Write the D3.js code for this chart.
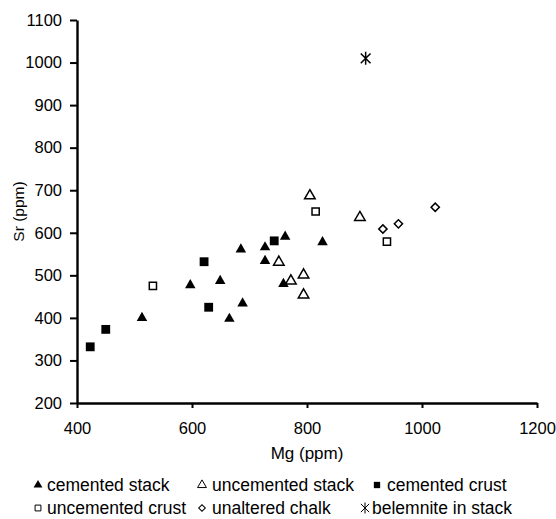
<!DOCTYPE html>
<html>
<head>
<meta charset="utf-8">
<script src="https://cdn.jsdelivr.net/npm/d3@7"></script>
<style>
  body { margin: 0; background: #fff; }
  text { font-family: "Liberation Sans", Arial, sans-serif; fill: #000; }
</style>
</head>
<body>
<svg id="chart"></svg>
<script>
// Mg (ppm) / Sr (ppm)
const cementedStackMg = [513, 597, 649, 665, 685, 688, 727, 727, 759, 762, 827];
const cementedStackSr = [400, 477, 487, 398, 561, 434, 566, 534, 480, 591, 578];

const uncementedStackMg = [751, 772, 794, 794, 805, 892];
const uncementedStackSr = [531, 487, 501, 454, 687, 636];

const cementedCrustMg = [423, 450, 621, 629, 743];
const cementedCrustSr = [332, 373, 532, 425, 581];

const uncementedCrustMg = [532, 815, 939];
const uncementedCrustSr = [475, 650, 579];

const chalkMg = [932, 959, 1023];
const chalkSr = [609, 621, 660];

const belemniteMg = [902];
const belemniteSr = [1010];

const xTicks = [400, 600, 800, 1000, 1200];
const yTicks = [200, 300, 400, 500, 600, 700, 800, 900, 1000, 1100];

const width = 556;
const height = 519;
const margin = { left: 77, right: 19, top: 20, bottom: 116 };

const svg = d3.select('#chart')
    .attr('width', width)
    .attr('height', height);

const x = d3.scaleLinear()
    .domain([400, 1200])
    .range([margin.left, width - margin.right]);

const y = d3.scaleLinear()
    .domain([200, 1100])
    .range([height - margin.bottom, margin.top]);

// Axes
const xAxis = svg.append('g')
    .attr('transform', `translate(0, ${y(200)})`)
    .call(d3.axisBottom(x).tickValues(xTicks).tickFormat(d3.format('d'))
        .tickSize(5).tickSizeOuter(0).tickPadding(14));

const yAxis = svg.append('g')
    .attr('transform', `translate(${x(400)}, 0)`)
    .call(d3.axisLeft(y).tickValues(yTicks).tickFormat(d3.format('d'))
        .tickSize(7).tickSizeOuter(0).tickPadding(8));

[xAxis, yAxis].forEach(ax => {
    ax.select('.domain').attr('stroke', '#000').attr('stroke-width', 2.4);
    ax.selectAll('.tick line').attr('stroke', '#000').attr('stroke-width', 2);
    ax.selectAll('.tick text')
        .attr('font-family', '"Liberation Sans", Arial, sans-serif')
        .attr('font-size', 16.5)
        .attr('fill', '#000');
});

// Axis titles
svg.append('text')
    .attr('x', (x(400) + x(1200)) / 2)
    .attr('y', 459)
    .attr('text-anchor', 'middle')
    .attr('font-size', 17)
    .text('Mg (ppm)');

svg.append('text')
    .attr('transform', `translate(24, ${(y(200) + y(1100)) / 2}) rotate(-90)`)
    .attr('text-anchor', 'middle')
    .attr('font-size', 15.5)
    .text('Sr (ppm)');

// Marker shapes
const triangle = d3.symbol().type(d3.symbolTriangle).size(48)();
const square = d3.symbol().type(d3.symbolSquare).size(78)();
const openSquare = d3.symbol().type(d3.symbolSquare).size(52)();
const diamond = d3.symbol().type(d3.symbolSquare).size(34)();

function star(r) {
    const d = r * 0.75;
    return `M0,${-r}L0,${r}M${-d},${-d}L${d},${d}M${-d},${d}L${d},${-d}`;
}

const series = [
    { label: 'cemented stack', mg: cementedStackMg, sr: cementedStackSr, path: triangle, fill: '#000', stroke: 'none' },
    { label: 'uncemented stack', mg: uncementedStackMg, sr: uncementedStackSr, path: triangle, fill: '#fff', stroke: '#000' },
    { label: 'cemented crust', mg: cementedCrustMg, sr: cementedCrustSr, path: square, fill: '#000', stroke: 'none' },
    { label: 'uncemented crust', mg: uncementedCrustMg, sr: uncementedCrustSr, path: openSquare, fill: '#fff', stroke: '#000' },
    { label: 'unaltered chalk', mg: chalkMg, sr: chalkSr, path: diamond, fill: '#fff', stroke: '#000', rotate: 45 },
    { label: 'belemnite in stack', mg: belemniteMg, sr: belemniteSr, path: star(6.5), fill: 'none', stroke: '#000' }
];

const plot = svg.append('g');

series.forEach(s => {
    plot.selectAll(null)
        .data(s.mg.map((m, i) => ({ mg: m, sr: s.sr[i] })))
        .enter()
        .append('path')
        .attr('d', s.path)
        .attr('transform', d => `translate(${x(d.mg)}, ${y(d.sr)}) rotate(${s.rotate || 0})`)
        .attr('fill', s.fill)
        .attr('stroke', s.stroke)
        .attr('stroke-width', 1.5);
});

// Legend, two rows of three
const legendSymbolX = [38, 202, 377, 38, 202, 365];
const legendTextX = [47, 212, 387, 47, 212, 372];
const legendRows = [491, 514];

const smallTriangle = d3.symbol().type(d3.symbolTriangle).size(34)();
const smallSquare = d3.symbol().type(d3.symbolSquare).size(40)();
const smallOpenSquare = d3.symbol().type(d3.symbolSquare).size(34)();
const smallDiamond = d3.symbol().type(d3.symbolSquare).size(22)();
const legendPaths = [smallTriangle, smallTriangle, smallSquare, smallOpenSquare, smallDiamond, star(5.5)];

series.forEach((s, i) => {
    const rowY = legendRows[Math.floor(i / 3)];

    svg.append('path')
        .attr('d', legendPaths[i])
        .attr('transform', `translate(${legendSymbolX[i]}, ${rowY - 6}) rotate(${s.rotate || 0})`)
        .attr('fill', s.fill)
        .attr('stroke', s.stroke)
        .attr('stroke-width', 1);

    svg.append('text')
        .attr('x', legendTextX[i])
        .attr('y', rowY)
        .attr('font-size', 17.5)
        .text(s.label);
});
</script>
</body>
</html>
